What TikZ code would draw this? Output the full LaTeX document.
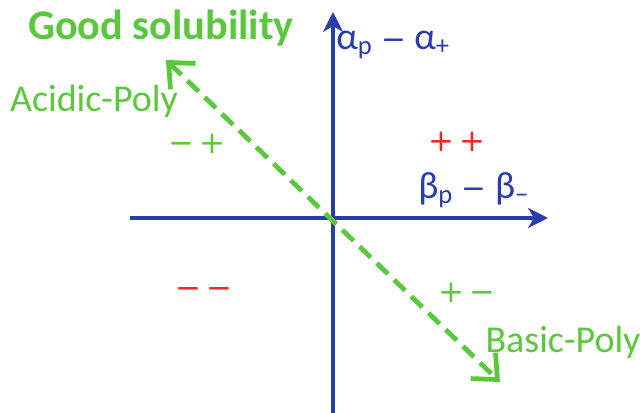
\documentclass[tikz,border=0pt]{standalone}
\usepackage{fontspec}
\setmainfont{Carlito}
\newfontfamily\signfont{DejaVu Sans}
\usetikzlibrary{arrows.meta}
\definecolor{axblue}{RGB}{40,60,170}
\definecolor{solgreen}{RGB}{90,200,60}
\definecolor{sgnred}{RGB}{230,45,35}
\newcommand{\lmin}{{\signfont\fontsize{21}{24}\selectfont −}}
\begin{document}
\begin{tikzpicture}[x=0.025cm,y=-0.025cm,axis/.style={draw=axblue,line width=2.2pt,-{Stealth[length=5mm,width=5mm,inset=1.5mm]}},diag/.style={draw=solgreen,line width=3.4pt,dash pattern=on 11pt off 6pt,{Straight Barb[length=5mm,width=9mm]}-{Straight Barb[length=5mm,width=9mm]}},lab/.style={font=\fontsize{27}{30}\selectfont,inner sep=0pt},sgn/.style={font=\signfont\fontsize{22}{24}\selectfont,inner sep=0pt}]
\useasboundingbox (0,0) rectangle (640,413);
\coordinate (ybot) at (333,413); \coordinate (ytop) at (333,12);
\coordinate (xl) at (130,218); \coordinate (xr) at (548,218);
\coordinate (dtop) at (166,60); \coordinate (dbot) at (500,382);
\draw[axis] (ybot)--(ytop);
\draw[axis] (xl)--(xr);
\draw[diag] (dtop)--(dbot);
\node[font=\fontsize{30}{34}\selectfont\bfseries,text=solgreen,inner sep=0pt] (good) at (161,28) {Good solubility};
\node[lab,text=axblue,anchor=west] (alpha) at (336,45) {α\textsubscript{p} \lmin{} α\textsubscript{+}};
\node[lab,text=axblue,anchor=west] (beta) at (418,190) {β\textsubscript{p} \lmin{} β\textsubscript{−}};
\node[lab,text=solgreen] (acid) at (94,101) {Acidic-Poly};
\node[lab,text=solgreen] (basic) at (563,342) {Basic-Poly};
\node[sgn,text=solgreen] (mp) at (197,144) {−\hspace{0.15em}+};
\node[sgn,text=sgnred] (pp) at (457,142) {+\hspace{0.15em}+};
\node[sgn,text=sgnred] (mm) at (204,293) {−\hspace{0.15em}−};
\node[sgn,text=solgreen] (pm) at (467,293) {+\hspace{0.15em}−};
\end{tikzpicture}
\end{document}
